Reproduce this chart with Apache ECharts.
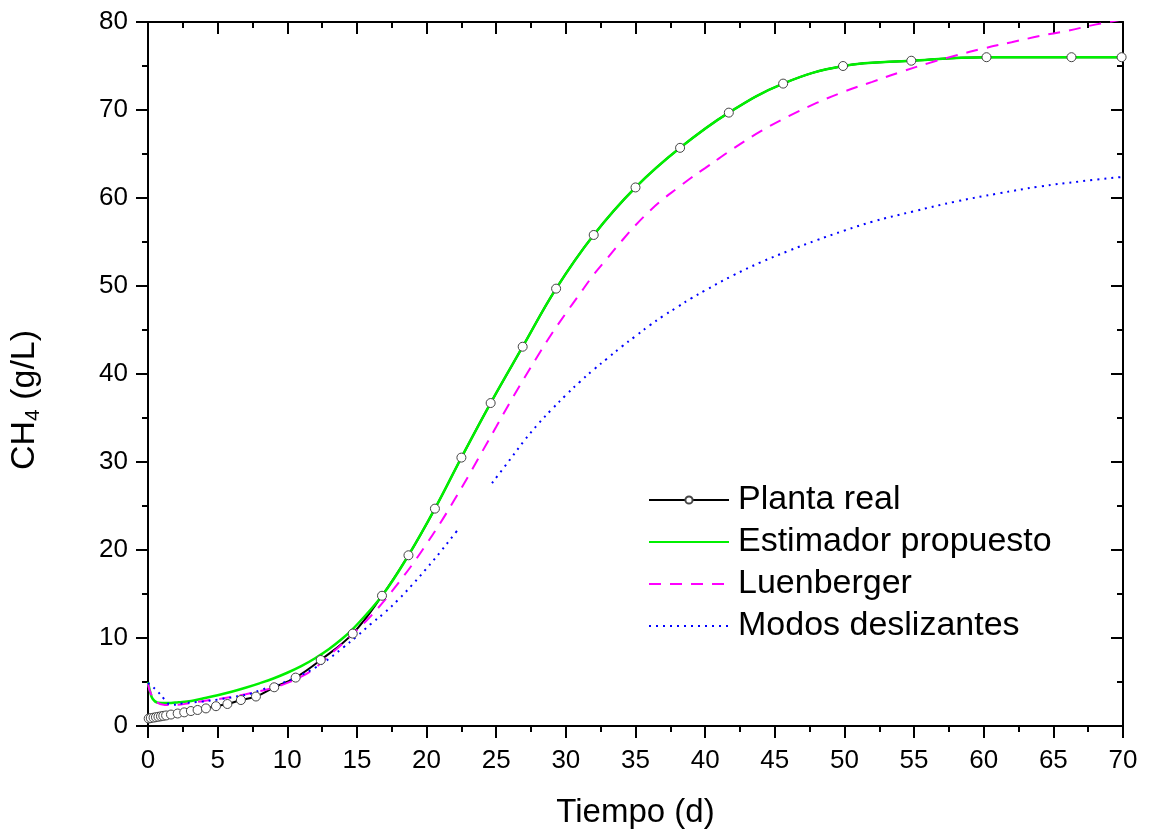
<!DOCTYPE html>
<html>
<head>
<meta charset="utf-8">
<script src="https://cdn.jsdelivr.net/npm/echarts@6/dist/echarts.min.js"></script>
<style>html,body{margin:0;padding:0;background:#fff}#c{width:1152px;height:834px}</style>
</head>
<body>
<div id="c"></div>
<script>
// ---- Data ----
const seriesNames = ['Planta real', 'Estimador propuesto', 'Luenberger', 'Modos deslizantes'];

const plantaT = [0.05, 0.2, 0.4, 0.57, 0.75, 0.93, 1.1, 1.3, 1.65, 2.13, 2.6, 3.08, 3.56, 4.16, 4.88, 5.7, 6.67, 7.75, 9.06, 10.6, 12.4, 14.7, 16.8, 18.7, 20.6, 22.5, 24.6, 26.9, 29.3, 32.0, 35.0, 38.2, 41.7, 45.6, 49.9, 54.8, 60.2, 66.3, 69.9];
const plantaY = [0.85, 0.9, 0.95, 1.0, 1.05, 1.1, 1.15, 1.2, 1.3, 1.42, 1.55, 1.7, 1.82, 2.0, 2.25, 2.5, 2.95, 3.35, 4.4, 5.5, 7.5, 10.5, 14.8, 19.4, 24.7, 30.5, 36.7, 43.1, 49.7, 55.8, 61.2, 65.7, 69.7, 73.0, 75.0, 75.6, 76.0, 76.0, 76.0];

const estT = [0, 0.15, 0.33, 0.7, 1.4, 2.2, 3.1, 4, 5, 6, 7, 8, 9, 10, 11, 12, 13, 14, 14.7, 16.8, 18.7, 20.6, 22.5, 24.6, 26.9, 29.3, 32.0, 35.0, 38.2, 41.7, 45.6, 49.9, 54.8, 60.2, 66.3, 69.9, 70];
const estY = [5.0, 3.9, 3.1, 2.65, 2.6, 2.7, 2.85, 3.15, 3.5, 3.9, 4.35, 4.85, 5.4, 6.05, 6.8, 7.7, 8.75, 10.0, 11.0, 14.8, 19.4, 24.7, 30.5, 36.7, 43.1, 49.7, 55.8, 61.2, 65.7, 69.7, 73.0, 75.0, 75.6, 76.0, 76.0, 76.0, 76.0];

const luenT = [0, 0.2, 0.6, 1.2, 2, 3, 4, 5, 6, 7, 8, 9, 10, 11, 12, 13, 14, 15, 16, 17, 18, 19, 20, 21, 22, 23, 24, 25, 26, 27, 28, 29, 30, 31, 32, 33, 34, 35, 36, 37, 38, 39, 40, 41, 42, 44, 46, 48, 50, 52, 54, 56, 58, 60, 62, 64, 66, 68, 70];
const luenY = [4.8, 3.7, 2.75, 2.4, 2.4, 2.6, 2.85, 3.05, 3.3, 3.6, 3.95, 4.35, 4.9, 5.6, 6.6, 8.0, 9.4, 10.9, 12.5, 14.3, 16.3, 18.4, 20.7, 23.1, 25.7, 28.4, 31.2, 34.0, 36.8, 39.5, 42.1, 44.6, 46.9, 49.1, 51.3, 53.2, 55.1, 56.9, 58.5, 59.9, 61.1, 62.3, 63.4, 64.5, 65.6, 67.6, 69.3, 70.8, 72.1, 73.2, 74.3, 75.3, 76.2, 77.0, 77.7, 78.4, 79.0, 79.7, 80.3];

const modosT = [0, 0.3, 0.65, 1.2, 1.65, 2.6, 3.8, 5, 6.5, 7.4, 8.1, 9.5, 11, 12.5, 14, 15, 16, 17, 18, 19, 20, 21, 22, 22.2, 23.4, 24.7, 26, 27, 28, 29, 30, 31, 32, 33, 34, 35, 36, 37, 38, 39, 40, 42, 44, 46, 48, 50, 52, 55, 58, 61, 64, 67, 70];
const modosY = [4.9, 4.5, 4.0, 3.0, 2.4, 2.6, 2.76, 3.0, 3.4, 3.7, 4.1, 4.8, 5.8, 7.1, 8.9, 10.2, 11.6, 12.9, 14.4, 16.1, 17.9, 19.8, 21.8, 22.2, null, 27.6, 30.3, 32.4, 34.3, 36.0, 37.6, 39.1, 40.5, 41.8, 43.1, 44.3, 45.5, 46.6, 47.6, 48.6, 49.5, 51.2, 52.7, 54.0, 55.2, 56.3, 57.3, 58.5, 59.6, 60.5, 61.3, 61.9, 62.4];

const xTicks = {min: 0, max: 70, interval: 5};
const yTicks = {min: 0, max: 80, interval: 10};

// ---- Build ----
const zip = (a, b) => a.map((t, i) => [t, b[i]]);
const FONT = "'Liberation Sans', Arial, sans-serif";
const axisLine = {show: true, onZero: false, lineStyle: {color: '#000', width: 2}};
const tickOut = {show: true, inside: false, length: 12, lineStyle: {color: '#000', width: 2}};
const tickIn = {show: true, inside: true, length: 12, lineStyle: {color: '#000', width: 2}};
const minorOut = {show: true, splitNumber: 2, length: 6, lineStyle: {color: '#000', width: 2}};
const hideSym = {opacity: 0, borderWidth: 0};
const SMOOTH = 0.4;

const chart = echarts.init(document.getElementById('c'), null, {renderer: 'canvas'});
chart.setOption({
  backgroundColor: '#fff',
  animation: false,
  textStyle: {fontFamily: FONT},
  grid: {left: 147, right: 29, top: 22, bottom: 108, containLabel: false},
  xAxis: [
    {type: 'value', position: 'bottom', min: xTicks.min, max: xTicks.max, interval: xTicks.interval,
     axisLine, axisTick: tickOut, minorTick: minorOut, splitLine: {show: false},
     axisLabel: {color: '#000', fontSize: 26, margin: 22, fontFamily: FONT},
     name: 'Tiempo (d)', nameLocation: 'middle', nameGap: 70,
     nameTextStyle: {color: '#000', fontSize: 33, fontFamily: FONT}},
    {type: 'value', position: 'top', min: xTicks.min, max: xTicks.max, interval: xTicks.interval,
     axisLine, axisTick: tickIn, minorTick: Object.assign({}, minorOut), splitLine: {show: false},
     axisLabel: {show: false}}
  ],
  yAxis: [
    {type: 'value', position: 'left', min: yTicks.min, max: yTicks.max, interval: yTicks.interval,
     axisLine, axisTick: tickOut, minorTick: minorOut, splitLine: {show: false},
     axisLabel: {color: '#000', fontSize: 26, margin: 20, fontFamily: FONT},
     name: '{a|CH}{s|4}{a| (g/L)}', nameLocation: 'middle', nameGap: 104, nameRotate: 90,
     nameTextStyle: {color: '#000', fontSize: 34, fontFamily: FONT, padding: [0, 52, 0, 0],
       rich: {a: {fontSize: 34, fontFamily: FONT, color: '#000', lineHeight: 38},
              s: {fontSize: 21, fontFamily: FONT, color: '#000', verticalAlign: 'bottom', lineHeight: 38}}}},
    {type: 'value', position: 'right', min: yTicks.min, max: yTicks.max, interval: yTicks.interval,
     axisLine, axisTick: tickIn, minorTick: Object.assign({}, minorOut), splitLine: {show: false},
     axisLabel: {show: false}}
  ],
  legend: {
    orient: 'vertical', left: 648, top: 483, padding: 0, itemWidth: 80, itemHeight: 9, itemGap: 8,
    data: [
      {name: seriesNames[0]},
      {name: seriesNames[1], itemStyle: hideSym},
      {name: seriesNames[2], itemStyle: hideSym},
      {name: seriesNames[3], itemStyle: hideSym}
    ],
    textStyle: {color: '#000', fontSize: 34, fontFamily: FONT, lineHeight: 34, padding: [0, 0, 0, 4]}
  },
  series: [
    {name: seriesNames[0], type: 'line', data: zip(plantaT, plantaY), symbol: 'circle', symbolSize: 9,
     showSymbol: true, showAllSymbol: true, smooth: SMOOTH,
     itemStyle: {color: '#fff', borderColor: '#444', borderWidth: 1},
     lineStyle: {color: '#000', width: 2}, clip: true},
    {name: seriesNames[1], type: 'line', data: zip(estT, estY), showSymbol: false, symbol: 'none',
     smooth: SMOOTH, color: '#00f000',
     lineStyle: {color: '#00f000', width: 2.5}, clip: true},
    {name: seriesNames[2], type: 'line', data: zip(luenT, luenY), showSymbol: false, symbol: 'none',
     smooth: SMOOTH, color: '#ff00ff',
     lineStyle: {color: '#ff00ff', width: 2, type: [12, 9]}, clip: true},
    {name: seriesNames[3], type: 'line', data: zip(modosT, modosY), showSymbol: false, symbol: 'none',
     smooth: SMOOTH, connectNulls: false, color: '#0000ff',
     lineStyle: {color: '#0000ff', width: 2, type: [2, 5]}, clip: true}
  ]
});
</script>
</body>
</html>
